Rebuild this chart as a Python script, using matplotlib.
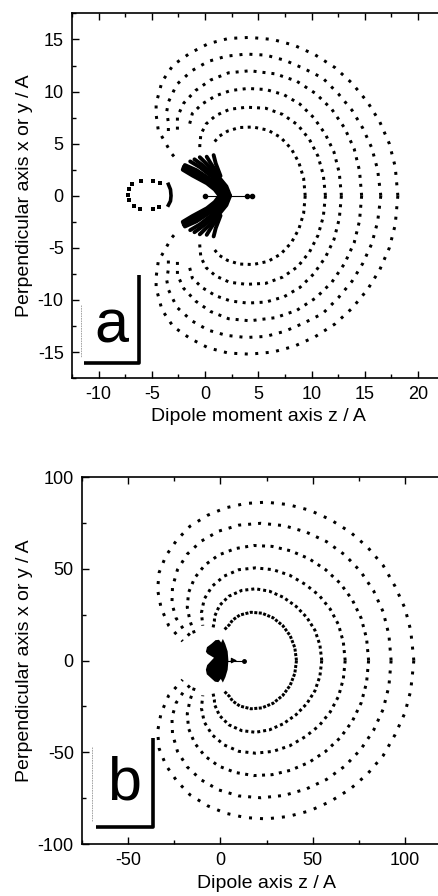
import matplotlib.pyplot as plt
from matplotlib.ticker import MultipleLocator

plt.rcParams['font.family'] = ['Liberation Sans', 'DejaVu Sans']
plt.rcParams['axes.unicode_minus'] = False

# ---- panel a: contour rings, upper half (z, y); lower half is the mirror image
a_ring1 = [(9.4, 0), (9.25, 1.7), (8.8, 3.2), (8.1, 4.5), (7.1, 5.6), (5.9, 6.3), (4.5, 6.6),
           (3.2, 6.55), (2.1, 6.2), (1.3, 5.7), (0.9, 5.2)]
a_ring2 = [(11.3, 0), (11.1, 2.0), (10.6, 3.8), (9.8, 5.4), (8.7, 6.8), (7.3, 7.8), (5.7, 8.4),
           (3.9, 8.5), (2.3, 8.3), (1.0, 7.7), (0.1, 6.9), (-0.4, 5.9), (-0.5, 4.8), (-0.5, 4.3)]
a_ring3 = [(12.8, 0), (12.6, 2.2), (12.1, 4.2), (11.3, 5.9), (10.2, 7.5), (8.9, 8.8), (7.4, 9.7),
           (5.7, 10.2), (4.0, 10.3), (2.4, 10.1), (1.0, 9.6), (-0.3, 8.8), (-1.2, 7.9), (-1.5, 6.7)]
a_ring4 = [(14.7, 0), (14.5, 2.4), (14.0, 4.5), (13.1, 6.5), (11.9, 8.3), (10.4, 9.8), (8.6, 11.0),
           (6.6, 11.7), (4.2, 12.0), (2.2, 11.8), (0.5, 11.1), (-0.9, 10.1), (-2.0, 8.9),
           (-2.6, 7.6), (-2.6, 6.1)]
a_ring5 = [(16.5, 0), (16.2, 2.5), (15.65, 4.6), (14.8, 6.5), (13.8, 8.2), (12.5, 9.8), (11.05, 11.3),
           (9.3, 12.2), (7.5, 13.0), (5.7, 13.5), (3.85, 13.6), (2.0, 13.4), (0.3, 12.9),
           (-1.25, 12.0), (-2.65, 10.7), (-3.45, 9.0), (-3.6, 8.1), (-3.45, 7.0), (-3.45, 5.7)]
a_ring6 = [(18.1, 0), (17.85, 2.8), (17.3, 5.0), (16.4, 7.1), (15.25, 9.0), (13.8, 10.8), (12.2, 12.3),
           (10.3, 13.55), (8.35, 14.45), (6.35, 15.0), (4.2, 15.2), (2.2, 15.1), (0.3, 14.6),
           (-1.4, 13.7), (-3.0, 12.55), (-4.05, 10.95), (-4.6, 8.85), (-4.6, 7.8), (-4.4, 6.3),
           (-3.15, 4.05), (-2.65, 3.45)]
a_rings = [a_ring1, a_ring2, a_ring3, a_ring4, a_ring5, a_ring6]
a_gaps = [7.5, 8.0, 8.5, 9.0, 10.0, 10.5]      # dot spacing in px

# dense crescent of strands near the dipole (upper half)
a_fan = [
    [(-2.1, 2.5), (-1.2, 1.95), (0.16, 1.2), (0.9, 0.6), (1.35, 0)],
    [(-2.05, 2.65), (-1.1, 2.1), (0.3, 1.3), (1.05, 0.62), (1.5, 0)],
    [(-2.0, 2.8), (-1.0, 2.25), (0.45, 1.4), (1.2, 0.66), (1.65, 0)],
    [(-1.9, 2.95), (-0.8, 2.45), (0.6, 1.5), (1.4, 0.7), (1.85, 0)],
    [(-1.4, 3.3), (-0.5, 2.75), (0.8, 1.7), (1.65, 0.8), (2.05, 0)],
    [(-1.0, 3.5), (-0.2, 2.9), (1.0, 1.85), (1.85, 0.85), (2.25, 0)],
    [(-0.5, 3.7), (0.2, 3.0), (1.2, 1.9), (2.0, 0.9), (2.35, 0)],
    [(0.15, 3.75), (0.6, 3.0), (1.35, 1.9)],
    [(0.8, 3.9), (1.0, 3.1), (1.45, 1.9)],
]
a_loop_z = [-6.04, -4.91, -4.23, -6.88, -7.14, -7.26, -7.14, -6.67, -6.1, -4.91, -4.29]
a_loop_y = [1.40, 1.46, 1.21, 1.15, 0.67, 0.03, -0.45, -0.99, -1.3, -1.3, -1.08]
a_arc = [(-3.45, 1.1), (-3.25, 0.6), (-3.2, 0), (-3.25, -0.5), (-3.45, -0.9)]
a_dipole_z = [0.0, 3.9, 4.4]

# ---- panel b
b_ring1 = [(41.2, 0), (40.3, 7), (37.8, 13.5), (33.8, 19), (28.5, 23.3), (22.5, 25.8), (16.5, 26.3),
           (10.5, 24.8), (6.5, 22), (4.9, 19.6), (2.2, 16.9)]
b_ring2 = [(54.9, 0), (53.9, 8.5), (51.2, 16.5), (46.8, 23.5), (41, 29.5), (34, 34.5), (26.5, 37.8),
           (19, 39.1), (11.5, 38.2), (4.5, 35), (-0.5, 30), (-3.2, 24), (-3.3, 21.4), (-4.2, 16.9)]
b_ring3 = [(67.6, 0), (66.6, 10), (64, 19.5), (59.5, 28), (53.5, 35.5), (46, 41.5), (37.5, 46.5),
           (28.5, 49.5), (19, 50.5), (10, 49.5), (2, 46), (-4.5, 40.5), (-8.8, 33.5), (-10.3, 26),
           (-9.6, 19)]
b_ring4 = [(80.3, 0), (79.2, 12), (76.3, 23), (71.5, 33), (65, 42), (57, 49.5), (48, 55.5), (38, 59.8),
           (28, 62.2), (18, 62.7), (8, 61), (-1, 57.5), (-8.5, 52), (-14, 45), (-17.3, 37), (-18, 29),
           (-16.5, 21.5), (-14.1, 14.7)]
b_ring5 = [(92.5, 0), (91.3, 14), (88.2, 26.5), (83, 38), (76, 48.5), (67.5, 57.5), (57.5, 64.8),
           (46.5, 70), (34.5, 73.5), (22, 74.8), (10, 73.8), (-1, 70.5), (-10.5, 65), (-18, 58),
           (-23.3, 49.5), (-26, 40), (-26.3, 31), (-24, 23), (-20, 17), (-16.5, 13.5)]
b_ring6 = [(104.8, 0), (104.5, 3.3), (103.1, 16.5), (100.0, 28.5), (94.6, 40.5), (88.2, 51.8),
           (79.7, 61.8), (70.5, 69.9), (59.6, 76.8), (48.4, 81.9), (36.6, 85.0), (24.8, 86.3),
           (13.6, 85.6), (2.7, 83.2), (-6.9, 79.2), (-16.5, 73.2), (-23.7, 65.6), (-29.5, 57.2),
           (-33.2, 48.1), (-34.1, 38.7), (-32.2, 28.7), (-28.1, 19.1), (-20.5, 10.5)]
b_rings = [b_ring1, b_ring2, b_ring3, b_ring4, b_ring5, b_ring6]
b_gaps = [4.5, 6.0, 7.5, 8.5, 10.0, 11.0]

b_blob = [(4.3, 0), (3.9, 5), (2.6, 9), (1.3, 11.8), (0.4, 9.8), (-0.8, 11.3), (-2.7, 11.1),
          (-4.8, 9.2), (-7.3, 7.3), (-7.9, 4.8), (-7.0, 3.6), (-3.5, 1.5), (-7.2, -2.5), (-7.9, -5),
          (-7.4, -7.5), (-5.2, -9.5), (-3.0, -11.5), (-1.2, -11.8), (0.2, -10), (1.3, -12),
          (2.7, -9), (3.9, -5), (4.3, 0)]
b_dipole_z = [4.3, 13.0]


def dotted(ax, pts, gap_px):
    lw = 2.16  # 3 px
    z = [p[0] for p in pts]
    y = [p[1] for p in pts]
    style = (0, (1, gap_px / 3.0 - 1))
    ax.plot(z, y, color='black', lw=lw, ls=style, dash_capstyle='butt')
    ax.plot(z, [-v for v in y], color='black', lw=lw, ls=style, dash_capstyle='butt')


def style_axes(ax, major, minor):
    ax.xaxis.set_major_locator(MultipleLocator(major[0]))
    ax.xaxis.set_minor_locator(MultipleLocator(minor[0]))
    ax.yaxis.set_major_locator(MultipleLocator(major[1]))
    ax.yaxis.set_minor_locator(MultipleLocator(minor[1]))
    ax.tick_params(which='both', direction='in', top=True, right=True, width=1, labelsize=13)
    ax.tick_params(which='major', length=5, pad=6)
    ax.tick_params(which='minor', length=3)
    for s in ax.spines.values():
        s.set_linewidth(1.2)


fig = plt.figure(figsize=(4.39, 8.96), dpi=100)

# panel a
ax = fig.add_axes([0.164, 0.578, 0.849, 0.407])
for ring, gap in zip(a_rings, a_gaps):
    dotted(ax, ring, gap)
for arm in a_fan:
    z = [p[0] for p in arm]
    y = [p[1] for p in arm]
    ax.plot(z, y, color='black', lw=2.8, solid_capstyle='round')
    ax.plot(z, [-v for v in y], color='black', lw=2.8, solid_capstyle='round')
ax.scatter(a_loop_z, a_loop_y, s=6, marker='s', color='black', lw=0)
ax.plot([p[0] for p in a_arc], [p[1] for p in a_arc], color='black', lw=2.6)
ax.plot(a_dipole_z, [0] * len(a_dipole_z), color='black', lw=0.8, marker='o', ms=3)
ax.set_xlim(-12.5, 22.5)
ax.set_ylim(-17.5, 17.5)
style_axes(ax, (5, 5), (2.5, 2.5))
ax.set_xlabel('Dipole moment axis z / A', fontsize=14, labelpad=3)
ax.set_ylabel('Perpendicular axis x or y / A', fontsize=14, labelpad=3)
ax.plot([-11.36, -6.2, -6.2], [-16.05, -16.05, -7.64], color='black', lw=2.6, solid_capstyle='butt')
ax.plot([-11.64, -11.64], [-10.5, -15.5], color='0.6', lw=0.6, ls=(0, (2, 1)))
ax.text(-8.8, -14.1, 'a', fontsize=44, ha='center', va='baseline')

# panel b
ax = fig.add_axes([0.187, 0.058, 0.8405, 0.4096])
for ring, gap in zip(b_rings, b_gaps):
    dotted(ax, ring, gap)
ax.fill([p[0] for p in b_blob], [p[1] for p in b_blob], color='black', lw=0)
ax.annotate('', xy=(10.5, 0), xytext=(b_dipole_z[0], 0),
            arrowprops=dict(arrowstyle='-|>', color='black', lw=0.8, mutation_scale=8))
ax.plot(b_dipole_z, [0, 0], color='black', lw=0.8)
ax.plot([b_dipole_z[-1]], [0], 'o', color='black', ms=2.5)
ax.set_xlim(-75, 125)
ax.set_ylim(-100, 100)
style_axes(ax, (50, 50), (25, 25))
ax.set_xlabel('Dipole axis z / A', fontsize=14, labelpad=4)
ax.set_ylabel('Perpendicular axis x or y / A', fontsize=14, labelpad=3)
ax.plot([-67.4, -36.4, -36.4], [-90.5, -90.5, -42], color='black', lw=2.6, solid_capstyle='butt')
ax.plot([-69.6, -69.6], [-46.9, -87.7], color='0.6', lw=0.6, ls=(0, (2, 1)))
ax.text(-52.5, -76, 'b', fontsize=44, ha='center', va='baseline')

fig.savefig('out.png', dpi=100)
